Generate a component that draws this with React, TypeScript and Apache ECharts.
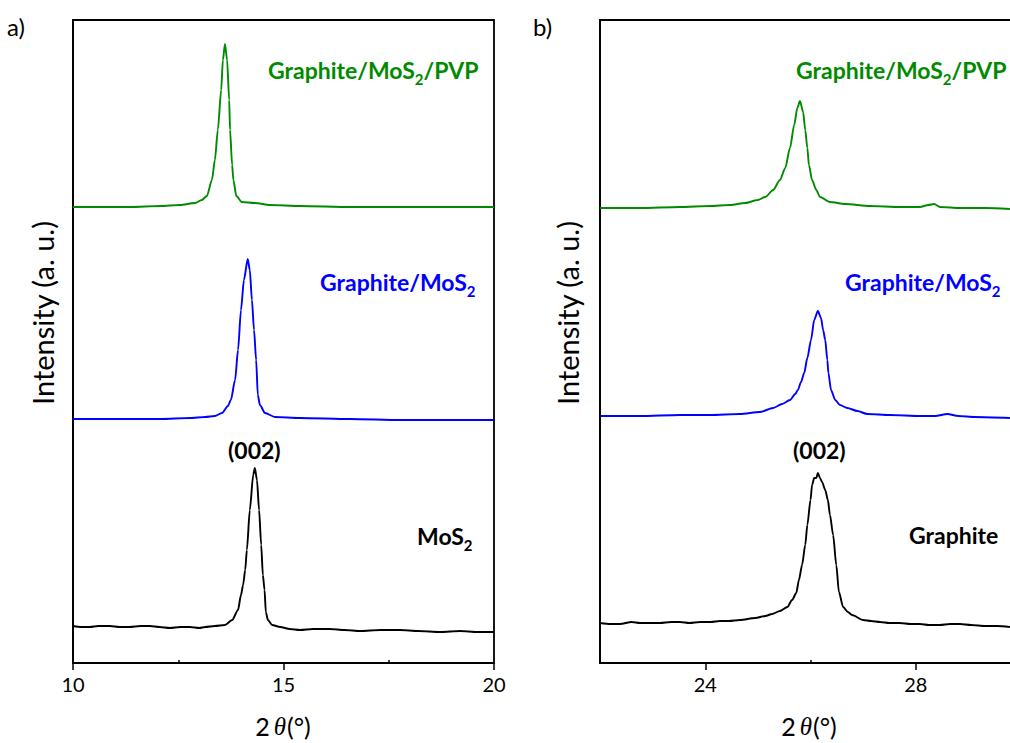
import React, { useEffect, useRef } from "react";
import * as echarts from "echarts";

// ---- Tick values ----
const LEFT_MAJOR = [10, 15, 20];
const LEFT_MINOR = [12.5, 17.5];
const RIGHT_MAJOR = [24, 28];
const RIGHT_MINOR = [22, 26, 30];

// ---- Panel a) (2θ, stacked intensity) ----
const leftMoS2: number[][] = [
  [10, 37], [10.2, 36], [10.4, 36], [10.6, 37], [10.88, 37], [11.1, 36], [11.35, 36], [11.6, 37],
  [11.83, 37], [12.05, 36], [12.3, 35], [12.55, 36], [12.78, 36], [13.0, 35], [13.14, 36], [13.37, 37],
  [13.61, 38], [13.78, 43], [13.92, 53], [13.99, 68], [14.04, 78], [14.09, 93], [14.13, 113],
  [14.2, 153], [14.28, 188], [14.32, 195], [14.37, 183], [14.42, 153], [14.47, 118], [14.51, 88],
  [14.55, 73], [14.58, 51], [14.63, 43], [14.73, 38], [14.92, 36], [15.15, 34], [15.39, 33],
  [15.7, 34], [16.1, 34], [16.45, 33], [16.82, 32], [17.3, 33], [17.77, 33], [18.2, 32],
  [18.72, 31], [19.2, 32], [19.6, 31], [20, 31],
];
const leftGM: number[][] = [
  [10, 244], [11.12, 244], [12.07, 244], [12.78, 245], [13.14, 246], [13.37, 247], [13.54, 250],
  [13.68, 257], [13.75, 263], [13.85, 283], [13.92, 313], [13.99, 353], [14.06, 383], [14.15, 404],
  [14.2, 393], [14.25, 363], [14.3, 333], [14.35, 303], [14.39, 268], [14.44, 258], [14.56, 250],
  [14.8, 246], [15.39, 245], [16.58, 244], [17.77, 243], [18.95, 243], [20, 243],
];
const leftGMP: number[][] = [
  [10, 456], [10.64, 456], [11.35, 456], [12.07, 457], [12.54, 458], [12.9, 460], [13.06, 463],
  [13.18, 467], [13.3, 483], [13.37, 503], [13.44, 533], [13.52, 573], [13.56, 603], [13.61, 619],
  [13.66, 603], [13.71, 563], [13.73, 533], [13.78, 498], [13.81, 483], [13.88, 467], [14.01, 461],
  [14.32, 460], [14.68, 458], [15.39, 457], [16.58, 456], [17.77, 456], [18.95, 456], [20, 456],
];

// ---- Panel b) ----
const rightGraphite: number[][] = [
  [22, 40], [22.2, 39], [22.38, 39], [22.6, 41], [22.76, 40], [22.95, 40], [23.14, 40], [23.35, 41],
  [23.52, 41], [23.7, 40], [23.9, 41], [24.1, 41], [24.28, 42], [24.45, 42], [24.66, 43], [24.95, 45],
  [25.14, 47], [25.27, 49], [25.42, 52], [25.56, 56], [25.65, 63], [25.73, 70], [25.78, 83],
  [25.84, 98], [25.9, 118], [25.94, 138], [26.0, 163], [26.03, 178], [26.07, 185], [26.11, 185],
  [26.14, 190], [26.18, 185], [26.22, 181], [26.28, 173], [26.33, 163], [26.37, 148], [26.43, 128],
  [26.49, 98], [26.54, 71], [26.62, 56], [26.71, 51], [26.79, 48], [27.0, 43], [27.15, 42],
  [27.32, 41], [27.5, 40], [27.7, 40], [27.9, 39], [28.08, 39], [28.25, 38], [28.46, 38],
  [28.65, 39], [28.84, 39], [29.05, 38], [29.32, 37], [29.55, 37], [29.79, 36],
];
const rightGM: number[][] = [
  [22, 247], [22.76, 247], [23.52, 248], [24.09, 248], [24.66, 249], [25.04, 251], [25.29, 255],
  [25.46, 259], [25.61, 263], [25.71, 269], [25.76, 273], [25.82, 281], [25.88, 290], [25.94, 305],
  [26.01, 323], [26.07, 343], [26.14, 352], [26.2, 345], [26.24, 333], [26.28, 323], [26.32, 303],
  [26.34, 290], [26.39, 273], [26.47, 263], [26.56, 258], [26.7, 255], [26.89, 252], [27.08, 249],
  [27.51, 248], [28.08, 247], [28.37, 247], [28.6, 249], [28.81, 247], [29.13, 246], [29.79, 245],
];
const rightGMP: number[][] = [
  [22, 455], [22.76, 455], [23.52, 456], [24.09, 457], [24.47, 458], [24.76, 460], [25.0, 463],
  [25.14, 466], [25.29, 473], [25.42, 483], [25.52, 495], [25.61, 515], [25.69, 538], [25.75, 555],
  [25.8, 562], [25.86, 551], [25.9, 533], [25.94, 515], [25.97, 498], [26.03, 483], [26.11, 473],
  [26.18, 466], [26.37, 461], [26.66, 459], [27.13, 457], [27.7, 456], [28.08, 456], [28.24, 458],
  [28.35, 459], [28.46, 456], [28.84, 455], [29.32, 455], [29.79, 454],
];

const GREEN = "#008a00";
const BLUE = "#0000ff";
const FONT = "Lato, 'Open Sans', sans-serif";

function App() {
  const ref = useRef<HTMLDivElement>(null);
  useEffect(() => {
    if (!ref.current) return;
    const chart = echarts.init(ref.current, null, { renderer: "svg" });
    const grids = [
      { left: 73, top: 20, width: 421, height: 643 },
      { left: 600, top: 20, width: 421, height: 643 },
    ];
    const axisLine = { show: true, lineStyle: { color: "#000", width: 1.8 } };
    const majorAxis = (gi: number, min: number, max: number, ticks: number[]) => ({
      type: "value",
      gridIndex: gi,
      min,
      max,
      axisLine: { ...axisLine, onZero: false },
      splitLine: { show: false },
      axisTick: { show: true, customValues: ticks, length: 7, lineStyle: { color: "#000", width: 1.5 } },
      axisLabel: { show: true, customValues: ticks, color: "#000", fontSize: 20, fontFamily: FONT, margin: 11 },
    });
    const minorAxis = (gi: number, min: number, max: number, ticks: number[]) => ({
      type: "value",
      gridIndex: gi,
      min,
      max,
      axisLine: { show: false },
      splitLine: { show: false },
      axisTick: { show: true, customValues: ticks, length: 3, lineStyle: { color: "#000", width: 1.5 } },
      axisLabel: { show: false },
    });
    const yAxis = (gi: number) => ({
      type: "value",
      gridIndex: gi,
      min: 0,
      max: 643,
      axisLine: { ...axisLine, onZero: false },
      axisTick: { show: false },
      axisLabel: { show: false },
      splitLine: { show: false },
    });
    const line = (data: number[][], color: string, xi: number, yi: number) => ({
      type: "line",
      data,
      xAxisIndex: xi,
      yAxisIndex: yi,
      showSymbol: false,
      symbol: "none",
      smooth: 0.25,
      smoothMonotone: "x",
      lineStyle: { color, width: 1.9 },
      silent: true,
    });
    const lbl = (x: number, y: number, text: string, color: string) => ({
      type: "text",
      x,
      y,
      style: {
        text,
        fill: color,
        align: "left",
        verticalAlign: "middle",
        rich: {
          n: { fontSize: 23, fontWeight: "bold", fontFamily: FONT, fill: color, lineHeight: 32, verticalAlign: "middle" },
          s: { fontSize: 15, fontWeight: "bold", fontFamily: FONT, fill: color, lineHeight: 15, verticalAlign: "bottom" },
        },
      },
    });
    const xTitle = (x: number) => ({
      type: "text",
      x,
      y: 726,
      style: {
        text: "{r|2}{i|θ}{r|(°)}",
        align: "center",
        verticalAlign: "middle",
        rich: {
          r: { fontSize: 25, lineHeight: 28, fontFamily: FONT, fill: "#000" },
          i: { fontSize: 25, lineHeight: 28, fontFamily: "'Liberation Serif', serif", fontStyle: "italic", fill: "#000", padding: [0, 1, 0, 4] },
        },
      },
    });
    const yTitle = (x: number) => ({
      type: "text",
      x,
      y: 313,
      rotation: Math.PI / 2,
      style: {
        text: "Intensity (a. u.)",
        align: "center",
        verticalAlign: "middle",
        fontSize: 29,
        fontFamily: FONT,
        fill: "#000",
      },
    });
    chart.setOption({
      animation: false,
      grid: grids.map((g) => ({ ...g, show: true, borderColor: "#000", borderWidth: 1.8, backgroundColor: "transparent" })),
      xAxis: [
        majorAxis(0, 10, 20, LEFT_MAJOR),
        minorAxis(0, 10, 20, LEFT_MINOR),
        majorAxis(1, 22, 30, RIGHT_MAJOR),
        minorAxis(1, 22, 30, RIGHT_MINOR),
      ],
      yAxis: [yAxis(0), yAxis(1)],
      series: [
        line(leftMoS2, "#000", 0, 0),
        line(leftGM, BLUE, 0, 0),
        line(leftGMP, GREEN, 0, 0),
        line(rightGraphite, "#000", 2, 1),
        line(rightGM, BLUE, 2, 1),
        line(rightGMP, GREEN, 2, 1),
      ],
      graphic: [
        { type: "text", x: 7, y: 26, style: { text: "a)", fontSize: 24, fontFamily: FONT, fill: "#000", verticalAlign: "middle" } },
        { type: "text", x: 533, y: 26, style: { text: "b)", fontSize: 24, fontFamily: FONT, fill: "#000", verticalAlign: "middle" } },
        lbl(268, 70, "{n|Graphite/MoS}{s|2}{n|/PVP}", GREEN),
        lbl(320, 282, "{n|Graphite/MoS}{s|2}", BLUE),
        lbl(228, 450, "{n|(002)}", "#000"),
        lbl(417, 536, "{n|MoS}{s|2}", "#000"),
        lbl(796, 70, "{n|Graphite/MoS}{s|2}{n|/PVP}", GREEN),
        lbl(845, 282, "{n|Graphite/MoS}{s|2}", BLUE),
        lbl(793, 450, "{n|(002)}", "#000"),
        lbl(909, 535, "{n|Graphite}", "#000"),
        xTitle(283),
        xTitle(809),
        yTitle(42),
        yTitle(567),
      ],
    });
    return () => chart.dispose();
  }, []);
  return (
    <div style={{ position: "fixed", left: 0, top: 0, width: 1010, height: 743, overflow: "hidden", background: "#fff" }}>
      <div ref={ref} style={{ width: 1030, height: 743 }} />
    </div>
  );
}

export default App;
